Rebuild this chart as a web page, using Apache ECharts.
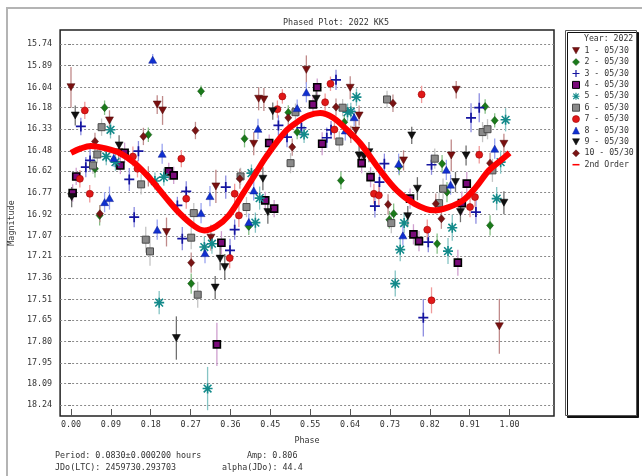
<!DOCTYPE html>
<html><head><meta charset="utf-8">
<script src="https://cdn.jsdelivr.net/npm/echarts@6/dist/echarts.min.js"></script>
<style>html,body{margin:0;padding:0;background:#fff}#c{width:642px;height:476px}</style>
</head><body><div id="c"></div><script>
// ---- data: [phase, magnitude, error] ----
const s1 = [[0.000,16.039,0.14],[0.0878,16.269,0.07],[0.1966,16.159,0.065],[0.2088,16.200,0.10],[0.1088,16.489,0.06],[0.3304,16.726,0.115],[0.4167,16.431,0.08],[0.4279,16.119,0.08],[0.4399,16.124,0.08],[0.5367,15.919,0.10],[0.6367,16.043,0.08],[0.6570,16.235,0.07],[0.6493,16.339,0.08],[0.7583,16.546,0.07],[0.8784,16.057,0.06],[0.8671,16.512,0.11],[0.9872,16.431,0.07],[0.2178,17.042,0.10],[0.3191,17.081,0.09],[0.9768,17.695,0.19]];
const s2 = [[0.0766,16.181,0.05],[0.2966,16.067,0.04],[0.1764,16.368,0.05],[0.0547,16.604,0.06],[0.0653,16.927,0.07],[0.3957,16.396,0.06],[0.4955,16.214,0.05],[0.5158,16.350,0.05],[0.4054,17.003,0.06],[0.2741,17.399,0.07],[0.6232,16.281,0.05],[0.6155,16.685,0.06],[0.7484,16.588,0.06],[0.7358,16.915,0.07],[0.7259,16.957,0.06],[0.8462,16.569,0.06],[0.8574,16.766,0.07],[0.8349,17.123,0.07],[0.9556,16.996,0.07],[0.9444,16.173,0.05],[0.9662,16.269,0.05]];
const s3 = [[0.0225,16.311,0.06],[0.1538,16.482,0.07],[0.0435,16.546,0.08],[0.0338,16.593,0.07],[0.1329,16.678,0.08],[0.1441,16.939,0.07],[0.2628,16.761,0.07],[0.2426,16.858,0.06],[0.3529,16.731,0.08],[0.4730,16.304,0.07],[0.4926,16.385,0.07],[0.5255,16.320,0.07],[0.2538,17.088,0.08],[0.3626,17.169,0.08],[0.3732,17.026,0.07],[0.6043,15.988,0.07],[0.5930,16.334,0.06],[0.5833,16.389,0.07],[0.7146,16.569,0.07],[0.7034,16.696,0.08],[0.6930,16.862,0.08],[0.8221,16.576,0.07],[0.9234,16.904,0.08],[0.9122,16.251,0.10],[0.9309,16.181,0.10],[0.8147,17.112,0.07],[0.8034,17.635,0.13]];
const s4 = [[0.1223,16.493,0.07],[0.1126,16.581,0.06],[0.0119,16.657,0.06],[0.2230,16.622,0.06],[0.2342,16.650,0.06],[0.0038,16.772,0.06],[0.4430,16.823,0.06],[0.4633,16.880,0.06],[0.4520,16.426,0.06],[0.3430,17.116,0.08],[0.3327,17.820,0.15],[0.5615,16.039,0.06],[0.5518,16.159,0.06],[0.5727,16.431,0.08],[0.6628,16.565,0.07],[0.6831,16.662,0.07],[0.7732,16.811,0.07],[0.9025,16.707,0.08],[0.8912,16.842,0.08],[0.7809,17.058,0.07],[0.7935,17.105,0.07],[0.8822,17.254,0.09]];
const s5 = [[0.0901,16.334,0.06],[0.0804,16.519,0.06],[0.1014,16.558,0.06],[0.1914,16.689,0.06],[0.2117,16.662,0.06],[0.4115,16.634,0.06],[0.4302,16.807,0.08],[0.5315,16.366,0.06],[0.3041,17.146,0.07],[0.3214,17.123,0.07],[0.4205,16.977,0.07],[0.2011,17.531,0.08],[0.3115,18.126,0.15],[0.6509,16.108,0.06],[0.6306,16.212,0.06],[0.6381,16.207,0.06],[0.9707,16.811,0.08],[0.9910,16.265,0.08],[0.7597,16.980,0.07],[0.7507,17.164,0.08],[0.7394,17.399,0.09],[0.8694,17.012,0.09],[0.8597,17.174,0.09],[0.9797,16.558,0.08]];
const s6 = [[0.0698,16.316,0.06],[0.0601,16.505,0.06],[0.0502,16.581,0.06],[0.1599,16.712,0.07],[0.2800,16.911,0.07],[0.3867,16.657,0.06],[0.4002,16.869,0.07],[0.5119,16.212,0.06],[0.5007,16.565,0.07],[0.1705,17.095,0.09],[0.1802,17.176,0.10],[0.2741,17.081,0.08],[0.2890,17.476,0.09],[0.6194,16.181,0.06],[0.6119,16.415,0.07],[0.7207,16.124,0.06],[0.8295,16.534,0.07],[0.8484,16.742,0.07],[0.8394,16.842,0.07],[0.9385,16.350,0.07],[0.9498,16.330,0.07],[0.9610,16.615,0.08],[0.7304,16.980,0.07]];
const s7 = [[0.0315,16.200,0.06],[0.2516,16.534,0.06],[0.1412,16.519,0.07],[0.1516,16.604,0.06],[0.0203,16.673,0.06],[0.0428,16.777,0.06],[0.2628,16.811,0.07],[0.3732,16.777,0.07],[0.3829,16.927,0.08],[0.4820,16.103,0.05],[0.4707,16.191,0.06],[0.3619,17.222,0.07],[0.5917,16.015,0.05],[0.5795,16.143,0.06],[0.6007,16.332,0.07],[0.7995,16.089,0.06],[0.6908,16.777,0.07],[0.7020,16.788,0.07],[0.9212,16.800,0.07],[0.9099,16.869,0.07],[0.9309,16.507,0.06],[0.8124,17.026,0.07],[0.8221,17.515,0.09]];
const s8 = [[0.1863,15.849,0.04],[0.2079,16.500,0.07],[0.0975,16.530,0.06],[0.0766,16.835,0.07],[0.0878,16.807,0.08],[0.2966,16.911,0.07],[0.3169,16.793,0.07],[0.4167,16.754,0.07],[0.4264,16.327,0.07],[0.5158,16.184,0.06],[0.5367,16.074,0.07],[0.1966,17.026,0.07],[0.3056,17.188,0.07],[0.4054,16.973,0.06],[0.6457,16.247,0.06],[0.6255,16.339,0.07],[0.7471,16.569,0.07],[0.8559,16.611,0.07],[0.8656,16.714,0.07],[0.9662,16.465,0.07],[0.7568,17.065,0.07]];
const s9 = [[0.0097,16.235,0.07],[0.1097,16.442,0.07],[0.0016,16.800,0.07],[0.4376,16.673,0.08],[0.4489,16.904,0.08],[0.4601,16.205,0.06],[0.3401,17.226,0.08],[0.3507,17.285,0.09],[0.3288,17.427,0.08],[0.2403,17.776,0.15],[0.5592,16.119,0.06],[0.7770,16.373,0.06],[0.6570,16.512,0.07],[0.6682,16.519,0.07],[0.6795,16.489,0.07],[0.7680,16.932,0.07],[0.7899,16.742,0.08],[0.8768,16.696,0.07],[0.9009,16.512,0.07],[0.8881,16.904,0.07],[0.9872,16.839,0.08]];
const s10 = [[0.2838,16.339,0.06],[0.1651,16.380,0.06],[0.0547,16.415,0.06],[0.1764,16.657,0.07],[0.0660,16.915,0.06],[0.3851,16.673,0.07],[0.4955,16.251,0.06],[0.5045,16.454,0.06],[0.2741,17.254,0.07],[0.6043,16.177,0.06],[0.6381,16.366,0.06],[0.7342,16.150,0.06],[0.7230,16.851,0.07],[0.8318,16.846,0.07],[0.9556,16.565,0.07],[0.8446,16.950,0.07]];
// fitted curve: [phase, magnitude]
const fitCurve = [[0.000,16.494],[0.0225,16.463],[0.045,16.446],[0.079,16.463],[0.113,16.498],[0.146,16.567],[0.180,16.671],[0.214,16.795],[0.248,16.913],[0.282,17.003],[0.304,17.031],[0.331,17.003],[0.360,16.927],[0.394,16.768],[0.417,16.657],[0.444,16.525],[0.489,16.346],[0.518,16.276],[0.541,16.235],[0.568,16.217],[0.597,16.249],[0.631,16.339],[0.660,16.429],[0.705,16.615],[0.743,16.754],[0.782,16.844],[0.827,16.892],[0.860,16.871],[0.894,16.823],[0.923,16.733],[0.953,16.615],[0.980,16.546],[1.000,16.494]];
const seriesNames = ['1 - 05/30','2 - 05/30','3 - 05/30','4 - 05/30','5 - 05/30','6 - 05/30','7 - 05/30','8 - 05/30','9 - 05/30','10 - 05/30'];
const curveName = '2nd Order';
const yTickLabels = ['15.74','15.89','16.04','16.18','16.33','16.48','16.62','16.77','16.92','17.07','17.21','17.36','17.51','17.65','17.80','17.95','18.09','18.24'];
const xTickLabels = ['0.00','0.09','0.18','0.27','0.36','0.45','0.55','0.64','0.73','0.82','0.91','1.00'];
const titleText = 'Phased Plot: 2022 KK5';
const footer1 = ['Period: 0.0830\u00b10.000200 hours', 'Amp: 0.806'];
const footer2 = ['JDo(LTC): 2459730.293703', 'alpha(JDo): 44.4'];

// ---- styling ----
const FONT = '"DejaVu Sans Mono", "Liberation Mono", monospace';
const FS = 8.4;
const TXT = '#333';
const DOWN = 'path://M0,0 L10,0 L5,9 Z';
const PLUS = 'path://M4.15,0 L5.85,0 L5.85,4.15 L10,4.15 L10,5.85 L5.85,5.85 L5.85,10 L4.15,10 L4.15,5.85 L0,5.85 L0,4.15 L4.15,4.15 Z';
const STAR = 'path://M4.2,0 L5.8,0 L5.8,10 L4.2,10 Z M0,4.2 L10,4.2 L10,5.8 L0,5.8 Z M0.6,1.7 L1.7,0.6 L9.4,8.3 L8.3,9.4 Z M8.3,0.6 L9.4,1.7 L1.7,9.4 L0.6,8.3 Z';
const LINEICON = 'path://M0,0 L10,0 L10,2.2 L0,2.2 Z';
const styles = [
  {sym: DOWN, size: [8,7], fill:'#7a1010', edge:'#4a0505', bw:0.5, bar:'#c08a8a'},
  {sym: 'diamond', size: [7,8], fill:'#1a7a1a', edge:'#0a4a0a', bw:0.5, bar:'#86c086'},
  {sym: PLUS, size: [10,10], fill:'#1515a0', edge:'#1515a0', bw:0, bar:'#8c8ce0'},
  {sym: 'rect', size: [7,7], fill:'#7a0a7a', edge:'#000', bw:1.6, bar:'#cf9fcf'},
  {sym: STAR, size: [10,10], fill:'#138a8a', edge:'#138a8a', bw:0, bar:'#86c4c4'},
  {sym: 'rect', size: [7,7], fill:'#8a8a8a', edge:'#4a4a4a', bw:1, bar:'#c4c4c4'},
  {sym: 'circle', size: 7, fill:'#e01818', edge:'#a00000', bw:0.6, bar:'#f09a9a'},
  {sym: 'triangle', size: [8,7], fill:'#1030d0', edge:'#0a1a90', bw:0.5, bar:'#9aa4f0'},
  {sym: DOWN, size: [8,7], fill:'#111', edge:'#000', bw:0.5, bar:'#707070'},
  {sym: 'diamond', size: [7,8], fill:'#7a1414', edge:'#4a0808', bw:0.5, bar:'#c09090'}
];
const allData = [s1,s2,s3,s4,s5,s6,s7,s8,s9,s10];

const series = [];
allData.forEach((d, i) => {
  const st = styles[i];
  series.push({
    type: 'custom', name: seriesNames[i] + ' err', data: d, z: 1, silent: true, clip: true,
    encode: {x: 0, y: 1},
    renderItem: (params, api) => {
      const x = api.value(0), y = api.value(1), e = api.value(2);
      const a = api.coord([x, y - e]), b = api.coord([x, y + e]);
      return {type: 'line', shape: {x1: a[0], y1: a[1], x2: b[0], y2: b[1]},
              style: {stroke: st.bar, lineWidth: 1.3}};
    }
  });
});
allData.forEach((d, i) => {
  const st = styles[i];
  series.push({
    type: 'scatter', name: seriesNames[i], data: d.map(p => [p[0], p[1]]), z: 3,
    symbol: st.sym, symbolSize: st.size,
    itemStyle: {color: st.fill, borderColor: st.edge, borderWidth: st.bw, opacity: 1},
    emphasis: {disabled: true}
  });
});
series.push({
  type: 'line', name: curveName, data: fitCurve, smooth: 0.35, showSymbol: false, symbol: 'none', z: 6,
  lineStyle: {color: '#ff0000', width: 6}, itemStyle: {color: '#ff0000'}
});

const yVals = yTickLabels.map(Number);
const xVals = xTickLabels.map((_, i) => i / (xTickLabels.length - 1));

const legendData = seriesNames.map((n, i) => ({name: n, itemStyle: {borderWidth: Math.min(styles[i].bw, 1)}}))
  .concat([{name: curveName, icon: LINEICON, itemStyle: {color: '#ff0000'}}]);

const chart = echarts.init(document.getElementById('c'), null, {renderer: 'canvas'});
chart.setOption({
  animation: false,
  backgroundColor: '#fff',
  textStyle: {fontFamily: FONT},
  title: {text: titleText, left: 331, top: 14, textAlign: 'center',
          textStyle: {fontFamily: FONT, fontSize: FS, fontWeight: 'normal', color: TXT}},
  grid: {left: 54, top: 30, width: 500, height: 386, show: true, borderColor: '#222', borderWidth: 1.5, containLabel: false},
  xAxis: {
    type: 'value', min: -0.0248, max: 1.1014,
    name: 'Phase', nameLocation: 'middle', nameGap: 21,
    nameTextStyle: {fontFamily: FONT, fontSize: FS, color: TXT},
    axisLine: {show: false},
    axisTick: {show: true, inside: true, length: 7, customValues: xVals, lineStyle: {color: '#555', width: 1}},
    axisLabel: {customValues: xVals, margin: 5, fontFamily: FONT, fontSize: FS, color: TXT,
      formatter: v => { const k = xVals.findIndex(t => Math.abs(t - v) < 1e-6); return k >= 0 ? xTickLabels[k] : ''; }},
    splitLine: {show: false}
  },
  yAxis: {
    type: 'value', inverse: true, min: 15.643, max: 18.316,
    name: 'Magnitude', nameLocation: 'middle', nameGap: 34, nameRotate: 90,
    nameTextStyle: {fontFamily: FONT, fontSize: FS, color: TXT},
    axisLine: {show: false},
    axisTick: {show: true, inside: false, length: 3, customValues: yVals, lineStyle: {color: '#777', width: 1}},
    axisLabel: {customValues: yVals, margin: 8, fontFamily: FONT, fontSize: FS, color: TXT,
      formatter: v => { const k = yVals.findIndex(t => Math.abs(t - v) < 1e-6); return k >= 0 ? yTickLabels[k] : ''; }},
    splitLine: {show: true, lineStyle: {color: '#8a8a8a', width: 1, type: [2, 2]}}
  },
  legend: {
    orient: 'vertical', left: 572, top: 45, padding: 0, itemWidth: 7, itemHeight: 7, itemGap: 0,
    data: legendData,
    textStyle: {fontFamily: FONT, fontSize: 8.2, color: TXT, lineHeight: 11.4},
    selectedMode: false, z: 5
  },
  graphic: [
    {type: 'rect', z: 0, silent: true, shape: {x: 7, y: 8, width: 700, height: 500},
     style: {fill: 'none', stroke: '#b4b4b4', lineWidth: 2}},
    {type: 'rect', z: 1, silent: true, shape: {x: 565.5, y: 30.5, width: 71, height: 385},
     style: {fill: '#fff', stroke: '#555', lineWidth: 1, shadowColor: '#111', shadowOffsetX: 2, shadowOffsetY: 2, shadowBlur: 0}},
    {type: 'text', z: 6, silent: true, left: 584, top: 35,
     style: {text: 'Year: 2022', font: '8.2px ' + FONT, fill: TXT}},
    {type: 'text', z: 6, silent: true, left: 55, top: 452, style: {text: footer1[0], font: FS + 'px ' + FONT, fill: TXT}},
    {type: 'text', z: 6, silent: true, left: 247, top: 452, style: {text: footer1[1], font: FS + 'px ' + FONT, fill: TXT}},
    {type: 'text', z: 6, silent: true, left: 55, top: 464, style: {text: footer2[0], font: FS + 'px ' + FONT, fill: TXT}},
    {type: 'text', z: 6, silent: true, left: 222, top: 464, style: {text: footer2[1], font: FS + 'px ' + FONT, fill: TXT}}
  ],
  series: series
});
</script></body></html>
